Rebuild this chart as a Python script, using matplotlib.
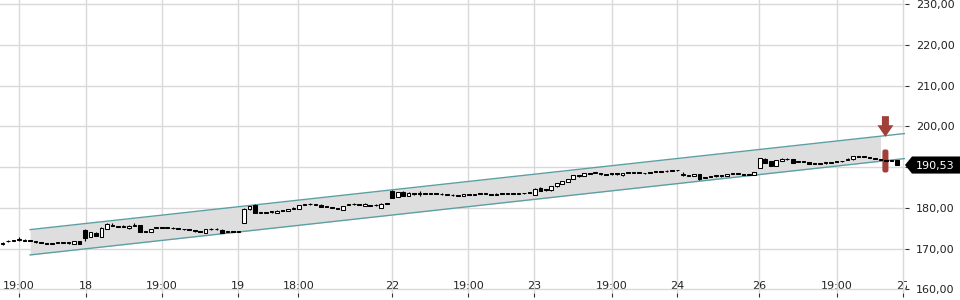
import matplotlib
matplotlib.use("Agg")
import matplotlib.pyplot as plt
import numpy as np
from matplotlib.patches import Rectangle, FancyArrow, FancyBboxPatch, Polygon
from matplotlib.transforms import Bbox, TransformedBbox, blended_transform_factory

# -- candle data (30 min bars), one line per session --
opens = [
    171.1, 171.75, 171.95, 172.15, 171.95, 172.0, 171.8, 171.6, 171.3, 171.2, 171.35, 171.35, 171.3, 171.15, 171.75,
    174.5, 172.9, 173.9, 172.9, 174.9, 175.65, 175.4, 175.3, 174.95, 175.65, 175.7, 174.25, 174.15, 175.15, 175.2,
    175.05, 174.95, 174.9, 174.8, 174.6, 174.4, 174.35, 173.95, 174.7, 174.7, 174.65, 174.15, 174.2, 174.15,
    176.3, 179.65, 180.6, 178.8, 178.8, 178.9, 178.85, 179.25, 179.25, 179.85, 179.8, 180.8, 180.85, 180.8, 180.8,
    180.2, 180.1, 179.8, 179.6, 180.75, 180.85, 180.85, 180.4, 180.75, 180.6, 180.0, 181.1,
    184.2, 182.75, 183.9, 182.9, 183.45, 183.5, 183.5, 183.5, 183.45, 183.3, 183.25, 183.05, 182.95, 182.9, 183.3,
    183.25, 183.35, 183.35, 183.4, 183.1, 183.5, 183.45, 183.45, 183.45, 183.55, 183.9,
    183.1, 184.9, 184.6, 184.3, 185.3, 185.8, 186.4, 187.05, 188.05, 187.85, 188.45, 188.55, 188.4, 188.25, 188.4,
    188.4, 188.0, 188.6, 188.65, 188.6, 188.5, 188.7, 188.75, 188.8, 188.95, 189.05, 189.2,
    188.0, 187.8, 187.8, 188.3, 187.35, 187.6, 187.75, 187.9, 187.8, 188.4, 188.35, 188.2, 188.15, 188.2,
    189.9, 192.1, 191.45, 190.25, 191.5, 191.9, 191.95, 191.25, 191.3, 191.3, 190.8, 190.75, 190.95, 191.0, 191.4,
    191.4, 191.7, 191.9, 192.65, 192.6, 192.4, 192.2, 192.0, 191.65, 191.65, 191.7,
]
closes = [
    171.5, 171.8, 172.0, 172.2, 172.0, 171.95, 171.7, 171.45, 171.2, 171.25, 171.4, 171.4, 171.35, 171.75, 171.15,
    172.7, 174.1, 173.1, 175.1, 175.95, 175.7, 175.3, 175.35, 175.65, 175.7, 174.1, 174.05, 174.85, 175.2, 175.15,
    175.1, 175.0, 174.85, 174.7, 174.55, 174.25, 174.2, 174.85, 174.75, 174.75, 173.85, 174.2, 174.15, 174.2,
    179.8, 180.35, 178.75, 178.85, 178.85, 178.95, 179.35, 179.2, 179.75, 179.9, 180.6, 180.85, 180.9, 180.85, 180.2,
    180.15, 179.95, 179.75, 180.4, 180.8, 180.9, 180.7, 181.05, 180.4, 180.65, 181.05, 181.05,
    182.5, 183.9, 182.9, 183.75, 183.35, 183.55, 183.45, 183.45, 183.4, 183.35, 183.3, 183.1, 182.9, 183.35, 183.25,
    183.3, 183.4, 183.4, 183.25, 183.5, 183.45, 183.5, 183.4, 183.5, 183.6, 183.75,
    184.75, 184.2, 184.45, 185.3, 186.0, 186.55, 187.05, 188.0, 187.95, 188.6, 188.4, 188.6, 188.25, 188.2, 188.25,
    188.25, 188.5, 188.55, 188.7, 188.55, 188.45, 188.55, 188.8, 188.75, 189.0, 189.1, 189.25,
    188.05, 187.85, 188.3, 187.05, 187.4, 187.55, 187.8, 187.75, 188.3, 188.45, 188.3, 188.15, 188.2, 188.85,
    192.3, 191.05, 190.3, 191.7, 192.1, 191.95, 191.15, 191.3, 191.25, 190.9, 190.75, 190.8, 191.0, 191.05, 191.25,
    191.45, 192.1, 192.8, 192.6, 192.55, 192.35, 192.05, 191.85, 191.5, 191.5, 190.53,
]
highs = [
    171.6, 172.0, 172.2, 172.9, 172.3, 172.2, 171.8, 171.6, 171.3, 171.3, 171.6, 171.6, 171.5, 171.8, 171.8,
    174.9, 174.2, 174.0, 175.2, 176.3, 176.2, 175.45, 175.8, 175.7, 176.2, 175.8, 174.3, 174.9, 175.3, 175.25,
    175.3, 175.2, 174.95, 174.85, 174.65, 174.45, 174.4, 174.9, 174.95, 174.95, 174.7, 174.25, 174.25, 174.25,
    179.9, 180.45, 180.95, 179.1, 179.1, 179.0, 179.4, 179.3, 179.8, 180.1, 180.65, 181.05, 181.1, 181.05, 180.85,
    180.25, 180.15, 179.85, 180.45, 181.0, 181.1, 180.9, 181.1, 180.8, 180.85, 181.1, 181.15,
    184.3, 183.95, 184.2, 183.8, 183.5, 184.15, 183.55, 183.55, 183.5, 183.55, 183.5, 183.3, 183.0, 183.4, 183.35,
    183.35, 183.6, 183.6, 183.45, 183.55, 183.55, 183.55, 183.5, 183.7, 183.65, 183.95,
    184.8, 185.15, 184.65, 185.35, 186.05, 186.6, 187.1, 188.05, 188.1, 188.65, 188.5, 188.85, 188.45, 188.35, 188.45,
    188.45, 188.6, 188.65, 188.9, 188.65, 188.55, 188.75, 189.0, 188.85, 189.2, 189.3, 189.3,
    188.85, 188.05, 188.35, 188.35, 187.6, 187.65, 188.0, 187.95, 188.35, 188.5, 188.4, 188.25, 188.25, 188.9,
    192.35, 192.3, 191.5, 191.75, 192.15, 192.2, 192.0, 191.5, 191.35, 191.35, 190.85, 190.85, 191.2, 191.1, 191.45,
    191.5, 192.15, 192.85, 192.7, 192.65, 192.45, 192.25, 192.05, 191.7, 191.7, 191.75,
]
lows = [
    171.0, 171.7, 171.9, 171.8, 171.9, 171.9, 171.5, 171.4, 171.15, 171.15, 171.3, 171.3, 171.25, 171.1, 171.1,
    171.9, 172.8, 173.0, 172.8, 174.85, 175.6, 175.25, 175.25, 174.9, 175.6, 174.0, 174.0, 174.1, 175.1, 175.1,
    175.0, 174.9, 174.8, 174.55, 174.5, 174.2, 174.15, 173.9, 174.65, 174.65, 173.8, 174.1, 174.1, 174.1,
    176.2, 179.6, 178.7, 178.75, 178.75, 178.85, 178.8, 179.15, 179.2, 179.8, 179.75, 180.75, 180.8, 180.75, 180.15,
    180.1, 179.9, 179.7, 179.55, 180.7, 180.8, 180.65, 180.35, 180.35, 180.55, 179.95, 181.0,
    182.4, 182.7, 182.85, 182.85, 183.2, 182.95, 183.4, 183.4, 183.35, 183.25, 183.2, 183.0, 182.85, 182.85, 183.2,
    183.2, 183.3, 183.3, 183.2, 183.05, 183.4, 183.4, 183.35, 183.4, 183.5, 183.7,
    183.05, 184.1, 184.2, 184.25, 185.25, 185.75, 186.35, 187.0, 187.7, 187.8, 188.35, 188.5, 188.2, 188.15, 188.2,
    188.2, 187.95, 188.5, 188.6, 188.5, 188.4, 188.5, 188.7, 188.7, 188.9, 189.0, 189.15,
    187.95, 187.75, 187.75, 186.9, 187.3, 187.5, 187.7, 187.7, 187.75, 188.35, 188.25, 188.1, 188.1, 188.15,
    189.85, 191.0, 190.25, 190.2, 191.45, 191.85, 191.1, 191.2, 191.2, 190.85, 190.7, 190.7, 190.9, 190.95, 191.2,
    191.35, 191.65, 191.85, 192.55, 192.5, 192.3, 192.0, 191.8, 191.45, 191.45, 190.5,
]
last_price = 190.53

# x axis labels (position in bar index)
tick_pos = [3.0, 15.1, 29.0, 42.95, 53.9, 71.0, 84.9, 96.9, 111.0, 123.0, 137.9, 152.0, 164.1]
tick_labels = ["19:00", "18", "19:00", "19", "18:00", "22", "19:00", "23", "19:00", "24", "26", "19:00", "27"]
y_ticks = [160, 170, 180, 190, 200, 210, 220, 230]

# trend channel: two parallel lines, (start, end) in bar index
channel_x = [5.0, 164.5]
channel_upper = [174.67, 198.28]
channel_lower = [168.45, 192.13]
channel_fill_end = 160.0

# sell signal marker
signal_x = 160.9

fig = plt.figure(figsize=(9.6, 3.0), dpi=100)
ax = fig.add_axes([0, 7 / 300, 905 / 960, 293 / 300])
ax.set_xlim(-0.49, 164.47)
ax.set_ylim(159.1, 231.06)

for s in ax.spines.values():
    s.set_visible(False)

ax.set_xticks(tick_pos)
ax.set_xticklabels(tick_labels)
ax.set_yticks(y_ticks)
# the price tag sits on top of the 190 label, so it is not shown
ax.set_yticklabels(["" if v == 190 else f"{v:.2f}".replace(".", ",") for v in y_ticks])
ax.yaxis.tick_right()
ax.tick_params(axis="x", direction="out", length=3, width=0.8, color="#333333",
               pad=-11.5, labelsize=8, labelcolor="#222222")
ax.tick_params(axis="y", direction="out", length=3, width=0.8, color="#333333",
               pad=5, labelsize=8, labelcolor="#222222")
ax.grid(True, color="#d9d9d9", linewidth=1.0, zorder=0)
ax.set_axisbelow(True)

# clip the last date label like the original
clip = TransformedBbox(Bbox([[0, 0], [906.5 / 960, 1]]), fig.transFigure)
last_tick = ax.xaxis.get_major_ticks()[-1]
last_tick.label1.set_clip_on(True)
last_tick.label1.set_clip_box(clip)

# channel
xs = np.array([channel_x[0], channel_fill_end])
up_f = np.interp(xs, channel_x, channel_upper)
lo_f = np.interp(xs, channel_x, channel_lower)
ax.fill_between(xs, lo_f, up_f, color="#dedede", zorder=1, linewidth=0)
ax.plot(channel_x, channel_upper, color="#5e9fa3", linewidth=1.0, zorder=2)
ax.plot(channel_x, channel_lower, color="#5e9fa3", linewidth=1.0, zorder=2)

# signal bar and arrow
red = "#a0403a"
bar = FancyBboxPatch((signal_x - 0.55, 188.7), 1.1, 5.65,
                     boxstyle="round,pad=0,rounding_size=0.4",
                     mutation_aspect=1.35, facecolor=red, edgecolor="none", zorder=3)
ax.add_patch(bar)

# candles
w = 0.66
for i, (o, c, h, l) in enumerate(zip(opens, closes, highs, lows)):
    ax.plot([i, i], [l, h], color="black", linewidth=0.8, zorder=4, solid_capstyle="butt")
    bottom = min(o, c)
    height = max(abs(c - o), 0.22)
    fc = "white" if c > o else "black"
    ax.add_patch(Rectangle((i - w / 2, bottom), w, height, facecolor=fc,
                           edgecolor="black", linewidth=0.75, zorder=5))

arrow = FancyArrow(signal_x, 202.53, 0, -5.08, width=1.28, head_width=2.9,
                   head_length=2.85, length_includes_head=True,
                   facecolor=red, edgecolor="none", zorder=6)
ax.add_patch(arrow)

# last price tag
tr = blended_transform_factory(fig.transFigure, ax.transData)
tag = Polygon([(905 / 960, last_price), (912 / 960, last_price + 2.1), (1.0, last_price + 2.1),
               (1.0, last_price - 2.1), (912 / 960, last_price - 2.1)],
              closed=True, transform=tr, facecolor="black", edgecolor="none", clip_on=False)
fig.patches.append(tag)
fig.text(916 / 960, last_price, f"{last_price:.2f}".replace(".", ","), transform=tr,
         color="white", fontsize=8, ha="left", va="center_baseline")

fig.savefig("out.png", dpi=100)
